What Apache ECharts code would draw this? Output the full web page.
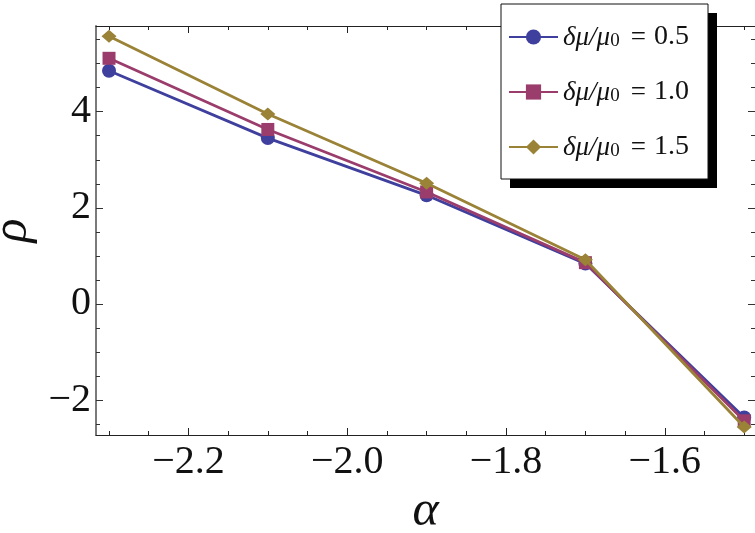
<!DOCTYPE html>
<html>
<head>
<meta charset="utf-8">
<script src="https://cdn.jsdelivr.net/npm/echarts@6/dist/echarts.min.js"></script>
<style>
  html, body { margin: 0; padding: 0; background: #fff; }
  #main { width: 755px; height: 533px; }
</style>
</head>
<body>
<div id="main"></div>
<script>
// data
var alphaValues = [-2.3, -2.1, -1.9, -1.7, -1.5];
var rhoHalf = [4.85, 3.45, 2.26, 0.84, -2.36];   // δμ/μ0 = 0.5
var rhoOne = [5.11, 3.63, 2.33, 0.86, -2.43];    // δμ/μ0 = 1.0
var rhoOneHalf = [5.57, 3.95, 2.51, 0.92, -2.56]; // δμ/μ0 = 1.5
var deltaLabels = ['0.5', '1.0', '1.5'];

// ticks
var xMajor = [-2.2, -2.0, -1.8, -1.6];
var xMinor = [-2.3, -2.25, -2.15, -2.1, -2.05, -1.95, -1.9, -1.85, -1.75, -1.7, -1.65, -1.55, -1.5];
var yMajor = [-2, 0, 2, 4];
var yMinor = [-2.5, -1.5, -1, -0.5, 0.5, 1, 1.5, 2.5, 3, 3.5, 4.5, 5, 5.5];

var xRange = [-2.3164, -1.4864];
var yRange = [-2.725, 5.782];

var colors = ['#3f3f9e', '#9b3d6c', '#9a8236'];
var symbols = ['circle', 'rect', 'diamond'];
var symbolSizes = [14, 13, [15, 13]];
var serif = "'Liberation Serif', 'Times New Roman', serif";

function pairs(ys) {
    return alphaValues.map(function (a, i) { return [a, ys[i]]; });
}

function frameX(pos, ticks, len, line, labels) {
    return {
        type: 'value', position: pos, min: xRange[0], max: xRange[1],
        axisLine: { show: line, onZero: false, lineStyle: { color: '#222', width: 1 } },
        axisTick: { show: true, inside: true, length: len, customValues: ticks, lineStyle: { color: '#222', width: 1 } },
        axisLabel: labels ? {
            show: true, customValues: xMajor, margin: 7,
            fontFamily: serif, fontSize: 40, color: '#111',
            formatter: function (v) { return (v < 0 ? '\u2212' : '') + Math.abs(v).toFixed(1); }
        } : { show: false },
        splitLine: { show: false }
    };
}

function frameY(pos, ticks, len, line, labels) {
    return {
        type: 'value', position: pos, min: yRange[0], max: yRange[1],
        axisLine: { show: line, onZero: false, lineStyle: { color: '#7a7a7a', width: 2 } },
        axisTick: { show: true, inside: true, length: len, customValues: ticks, lineStyle: { color: '#333', width: 1 } },
        axisLabel: labels ? {
            show: true, customValues: yMajor, margin: 5,
            fontFamily: serif, fontSize: 40, color: '#111',
            formatter: function (v) { return (v < 0 ? '\u2212' : '') + Math.abs(v); }
        } : { show: false },
        splitLine: { show: false }
    };
}

var xAxes = [
    frameX('bottom', xMajor, 7, true, true),
    frameX('bottom', xMinor, 4, false, false),
    frameX('top', xMajor, 7, true, false),
    frameX('top', xMinor, 4, false, false)
];
xAxes[0].name = '\u03b1';
xAxes[0].nameLocation = 'middle';
xAxes[0].nameGap = 52;
xAxes[0].nameTextStyle = { fontFamily: serif, fontStyle: 'italic', fontSize: 50, color: '#111' };

var yAxes = [
    frameY('left', yMajor, 7, true, true),
    frameY('left', yMinor, 4, false, false),
    frameY('right', yMajor, 7, false, false),
    frameY('right', yMinor, 4, false, false)
];
yAxes[0].name = '\u03c1';
yAxes[0].nameLocation = 'middle';
yAxes[0].nameGap = 58;
yAxes[0].nameTextStyle = { fontFamily: serif, fontStyle: 'italic', fontSize: 50, color: '#111' };

var seriesData = [rhoHalf, rhoOne, rhoOneHalf];
var series = seriesData.map(function (ys, i) {
    return {
        name: deltaLabels[i],
        type: 'line',
        xAxisIndex: 0,
        yAxisIndex: 0,
        data: pairs(ys),
        symbol: symbols[i],
        symbolSize: symbolSizes[i],
        showAllSymbol: true,
        lineStyle: { color: colors[i], width: 2.8 },
        itemStyle: { color: colors[i] },
        emphasis: { disabled: true },
        z: 10 + i
    };
});

var myChart = echarts.init(document.getElementById('main'), null, { renderer: 'canvas' });
myChart.setOption({
    animation: false,
    color: colors,
    grid: { left: 96, right: 0, top: 26, bottom: 98, outerBoundsMode: 'none' },
    xAxis: xAxes,
    yAxis: yAxes,
    // legend frame with hard black drop shadow
    graphic: [
        { type: 'rect', z: 90, shape: { x: 510, y: 13, width: 207, height: 175 }, style: { fill: '#000' } },
        { type: 'rect', z: 91, shape: { x: 501, y: 4, width: 207, height: 175 }, style: { fill: '#fff', stroke: '#111', lineWidth: 1 } }
    ],
    legend: {
        show: true,
        z: 100,
        orient: 'vertical',
        left: 501,
        top: 4,
        padding: [19, 8, 19, 7],
        itemGap: 27,
        itemWidth: 49,
        itemHeight: 19,
        data: deltaLabels,
        formatter: function (name) {
            return '{i|\u03b4\u03bc/\u03bc}{s|0}{e|=}{n|' + name + '}';
        },
        textStyle: {
            color: '#111',
            rich: {
                i: { fontFamily: serif, fontStyle: 'italic', fontSize: 27, lineHeight: 28, verticalAlign: 'bottom' },
                s: { fontFamily: serif, fontSize: 19, lineHeight: 15, verticalAlign: 'bottom' },
                e: { fontFamily: serif, fontSize: 27, lineHeight: 28, verticalAlign: 'bottom', padding: [0, 8, 0, 11] },
                n: { fontFamily: serif, fontSize: 28, lineHeight: 28, verticalAlign: 'bottom' }
            }
        }
    },
    series: series
});
</script>
</body>
</html>
